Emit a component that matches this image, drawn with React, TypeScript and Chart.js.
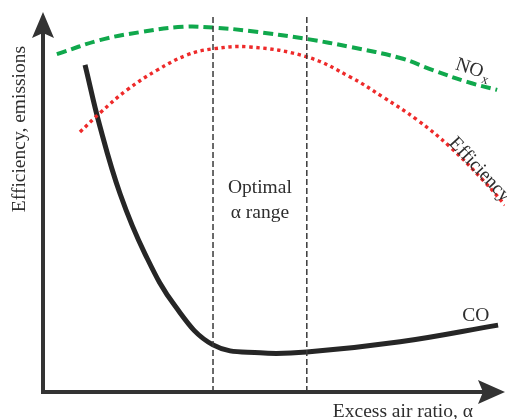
import React, { useEffect, useRef } from "react";
import { Chart, registerables } from "chart.js";

Chart.register(...registerables);

// Conceptual units: x = excess air ratio (0..100), y = relative level (0..100)
const noxX = [3.0, 12.3, 21.0, 30.3, 36.8, 44.8, 57.1, 66.5, 77.3, 84.4, 91.8, 98.3];
const noxY = [88.9, 92.6, 94.7, 96.1, 95.9, 95.0, 92.9, 90.8, 87.9, 84.7, 81.6, 79.5];

const effX = [8.0, 12.3, 18.2, 24.7, 31.2, 36.8, 44.8, 57.1, 66.5, 73.6, 81.0, 88.1, 95.2, 100];
const effY = [68.4, 73.4, 79.5, 84.7, 88.7, 90.3, 90.8, 88.2, 82.9, 77.6, 71.6, 64.5, 55.8, 49.2];

const coX = [9.1, 12.3, 16.7, 22.1, 28.6, 36.8, 47.0, 57.1, 77.3, 98.5];
const coY = [86.1, 70.0, 52.1, 36.3, 22.6, 12.4, 10.3, 10.5, 13.2, 17.6];

const optimalBounds = [36.8, 57.1];
const boundTop = 98.7;

const labels = {
  yAxis: "Efficiency, emissions",
  xAxis: "Excess air ratio, α",
  optimal1: "Optimal",
  optimal2: "α range",
  nox: "NO",
  noxSub: "x",
  eff: "Efficiency",
  co: "CO",
};

const pts = (xs: number[], ys: number[]) => xs.map((x, i) => ({ x, y: ys[i] }));

const INK = "#2e2e2e";
const FONT = "'Liberation Serif', 'DejaVu Serif', serif";

const overlay = {
  id: "overlay",
  afterDatasetsDraw(chart: any) {
    const { ctx, scales } = chart;
    const xs = scales.x;
    const ys = scales.y;
    const px = (v: number) => xs.getPixelForValue(v);
    const py = (v: number) => ys.getPixelForValue(v);
    const ox = px(0);
    const oy = py(0);
    const tipY = py(100);
    const tipX = px(100);
    ctx.save();
    // axes
    ctx.strokeStyle = "#333333";
    ctx.fillStyle = "#333333";
    ctx.lineWidth = 4;
    ctx.lineCap = "butt";
    ctx.beginPath();
    ctx.moveTo(ox, oy + 2);
    ctx.lineTo(ox, tipY + 20);
    ctx.moveTo(ox - 2, oy);
    ctx.lineTo(tipX - 20, oy);
    ctx.stroke();
    // y arrow
    ctx.beginPath();
    ctx.moveTo(ox, tipY);
    ctx.lineTo(ox - 11, tipY + 26);
    ctx.lineTo(ox, tipY + 21);
    ctx.lineTo(ox + 11, tipY + 26);
    ctx.closePath();
    ctx.fill();
    // x arrow
    ctx.beginPath();
    ctx.moveTo(tipX, oy);
    ctx.lineTo(tipX - 27, oy - 12);
    ctx.lineTo(tipX - 22, oy);
    ctx.lineTo(tipX - 27, oy + 12);
    ctx.closePath();
    ctx.fill();

    // texts
    ctx.fillStyle = INK;
    ctx.font = `19.5px ${FONT}`;
    ctx.textBaseline = "middle";
    // y axis label
    ctx.save();
    ctx.translate(ox - 23, py(69.2));
    ctx.rotate(-Math.PI / 2);
    ctx.textAlign = "center";
    ctx.fillText(labels.yAxis, 0, 0);
    ctx.restore();
    // x axis label
    ctx.textAlign = "right";
    ctx.fillText(labels.xAxis, tipX - 32, oy + 20);
    // optimal range
    ctx.textAlign = "center";
    const midX = (px(optimalBounds[0]) + px(optimalBounds[1])) / 2;
    ctx.fillText(labels.optimal1, midX, py(53.7));
    ctx.fillText(labels.optimal2, midX, py(47.1));
    // NOx
    ctx.save();
    ctx.translate(px(89.4), py(86.3));
    ctx.rotate(0.32);
    ctx.textAlign = "left";
    ctx.fillText(labels.nox, 0, 0);
    const w = ctx.measureText(labels.nox).width;
    ctx.font = `13px ${FONT}`;
    ctx.fillText(labels.noxSub, w + 1, 6);
    ctx.restore();
    // Efficiency
    ctx.save();
    ctx.font = `19.5px ${FONT}`;
    ctx.translate(px(88.5), py(66.3));
    ctx.rotate(0.82);
    ctx.textAlign = "left";
    ctx.fillText(labels.eff, 0, 0);
    ctx.restore();
    // CO
    ctx.textAlign = "center";
    ctx.fillText(labels.co, px(93.7), py(20.0));
    ctx.restore();
  },
};

export default function App() {
  const ref = useRef<HTMLCanvasElement | null>(null);
  useEffect(() => {
    if (!ref.current) return;
    const boundLine = (x: number) => ({
      data: [
        { x, y: 0 },
        { x, y: boundTop },
      ],
      showLine: true,
      borderColor: "#3a3a3a",
      borderWidth: 1.5,
      borderDash: [6, 3],
      pointRadius: 0,
      tension: 0,
    });
    const chart = new Chart(ref.current, {
      type: "scatter",
      data: {
        datasets: [
          boundLine(optimalBounds[0]),
          boundLine(optimalBounds[1]),
          {
            data: pts(noxX, noxY),
            showLine: true,
            borderColor: "#10a84c",
            borderWidth: 4,
            borderDash: [10, 5],
            pointRadius: 0,
            tension: 0.4,
          } as any,
          {
            data: pts(effX, effY),
            showLine: true,
            borderColor: "#ee2a2a",
            borderWidth: 3.4,
            borderDash: [3.4, 3.6],
            pointRadius: 0,
            tension: 0.4,
          } as any,
          {
            data: pts(coX, coY),
            showLine: true,
            borderColor: "#262626",
            borderWidth: 5,
            borderCapStyle: "butt",
            pointRadius: 0,
            tension: 0.4,
          } as any,
        ],
      },
      options: {
        animation: false,
        responsive: false,
        layout: { padding: { left: 43, right: 2, top: 12, bottom: 27 } },
        plugins: { legend: { display: false }, tooltip: { enabled: false } },
        scales: {
          x: { type: "linear", min: 0, max: 100, display: false },
          y: { type: "linear", min: 0, max: 100, display: false },
        },
      },
      plugins: [overlay],
    });
    return () => chart.destroy();
  }, []);
  return (
    <div style={{ position: "absolute", left: 0, top: 0, width: 507, height: 419, background: "#ffffff", overflow: "hidden" }}>
      <canvas ref={ref} width={507} height={419} style={{ display: "block" }} />
    </div>
  );
}
